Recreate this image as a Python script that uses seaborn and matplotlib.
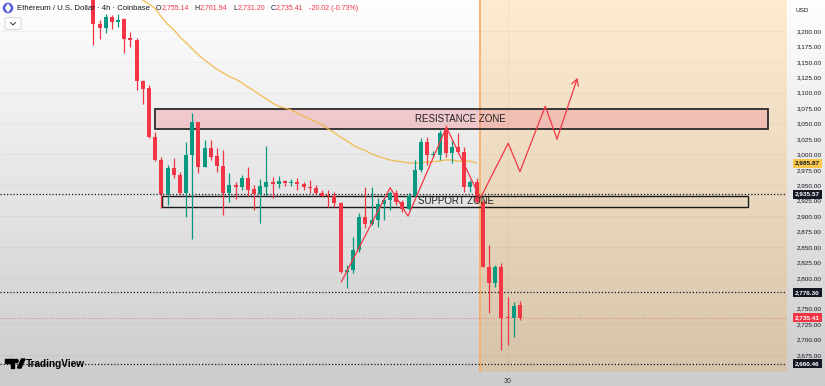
import numpy as np
import pandas as pd
import matplotlib
matplotlib.use("Agg")
import matplotlib.pyplot as plt
import matplotlib.transforms as mtransforms
from matplotlib.patches import Rectangle, FancyBboxPatch, Circle, Polygon
import seaborn as sns

# ETH/USD 4h candles
opens = [3258, 3211, 3205, 3223, 3215, 3219, 3188, 3186, 3119, 3108,
         3028, 2991, 2936, 2978, 2967, 2937, 2999, 3052, 2980, 3010,
         2997, 2981, 2937, 2950, 2947, 2962, 2944, 2936, 2947, 2955,
         2952, 2957, 2953, 2955, 2952, 2947, 2946, 2937, 2933, 2933,
         2921, 2809, 2812, 2845, 2899, 2887, 2894, 2919, 2926, 2937,
         2923, 2912, 2933, 2975, 3020, 2999, 2999, 3040, 3002, 3012,
         3004, 2947, 2955, 2923, 2818, 2792, 2818, 2736, 2735, 2755.14]
highs = [3266, 3218, 3228, 3226, 3228, 3221, 3198, 3188, 3120, 3112,
         3036, 2996, 2983, 2994, 2972, 3020, 3067, 3053, 3023, 3023,
         3010, 3007, 2970, 2955, 2967, 2980, 2950, 2960, 3014, 2963,
         2965, 2959, 2960, 2962, 2955, 2958, 2950, 2942, 2942, 2939,
         2923, 2821, 2866, 2905, 2947, 2947, 2929, 2934, 2941, 2942,
         2926, 2937, 2991, 3027, 3028, 3005, 3040, 3048, 3023, 3035,
         3012, 2958, 2962, 2926, 2853, 2821, 2824, 2769, 2761, 2761.94]
lows = [3177, 3187, 3197, 3203, 3207, 3164, 3174, 3104, 3082, 3026,
        2990, 2913, 2918, 2962, 2936, 2899, 2863, 2970, 2979, 2991,
        2972, 2902, 2923, 2928, 2942, 2933, 2910, 2889, 2934, 2929,
        2946, 2949, 2949, 2942, 2942, 2937, 2936, 2931, 2915, 2915,
        2808, 2784, 2808, 2842, 2881, 2886, 2882, 2894, 2910, 2918,
        2907, 2910, 2931, 2971, 2983, 2995, 2991, 2996, 2986, 3002,
        2939, 2939, 2921, 2817, 2743, 2785, 2683, 2691, 2704, 2731.20]
closes = [3211, 3205, 3223, 3215, 3218, 3187, 3186, 3119, 3106, 3028,
          2991, 2936, 2978, 2967, 2937, 2999, 3052, 2980, 3010, 2996,
          2981, 2937, 2950, 2947, 2962, 2942, 2936, 2949, 2955, 2952,
          2957, 2954, 2955, 2952, 2947, 2946, 2937, 2933, 2932, 2921,
          2809, 2813, 2845, 2899, 2887, 2894, 2920, 2926, 2937, 2923,
          2912, 2933, 2975, 3020, 2999, 3001, 3035, 3002, 3012, 3004,
          2947, 2955, 2923, 2818, 2792, 2818, 2735, 2735, 2754, 2735.41]

# moving average, starts at candle 6
ma_start = 6
ma_values = [3268, 3258, 3250, 3244, 3236, 3223, 3211, 3202, 3190, 3181,
             3171, 3161, 3153, 3145, 3138, 3132, 3126, 3122, 3116, 3109,
             3103, 3096, 3090, 3083, 3078, 3075, 3072, 3067, 3062, 3057,
             3053, 3048, 3041, 3035, 3028, 3022, 3015, 3010, 3006, 3001,
             2997, 2994, 2991, 2989, 2988, 2986, 2986, 2986, 2988, 2988,
             2989, 2991, 2991, 2989, 2989, 2989, 2986]

# 2,775 sits under the 2,776.30 tag, so it is left out
price_ticks = [3200, 3175, 3150, 3125, 3100, 3075, 3050, 3025, 3000, 2975,
               2950, 2925, 2900, 2875, 2850, 2825, 2800, 2750, 2725,
               2700, 2675]
level_lines = [2935.57, 2776.30, 2660.46]
last_price = 2735.41
ma_last = 2985.87

resistance_zone = [3040.7, 3073.0]
support_zone = [2914.3, 2933.0]
zone_span = {"resistance": [10.0, 109.2], "support": [11.1, 105.9]}

# projected path drawn on the chart (candle index, price)
path_idx = [40.1, 48.0, 50.9, 57.1, 62.6, 67.1, 69.0, 73.1, 75.0, 78.3]
path_price = [2793, 2946, 2900, 3044, 2929, 3018, 2972, 3078, 3025, 3124]

forecast_start = 62.6
date_tick_idx = 67
date_tick_label = "30"

header_title = "Ethereum / U.S. Dollar · 4h · Coinbase"
header_ohlc = [("O", "2,755.14"), ("H", "2,761.94"), ("L", "2,731.20"), ("C", "2,735.41")]
header_change = "-20.02 (-0.73%)"

UP = "#089981"
DOWN = "#f23645"
TXT = "#131722"

sns.set_style("white")
plt.rcParams['font.family'] = ['Liberation Sans', 'DejaVu Sans']

W, H = 825, 386
fig = plt.figure(figsize=(W / 100, H / 100), dpi=100)

# background gradient (screenshot vignette)
bg = fig.add_axes([0, 0, 1, 1])
grad = np.linspace(0.995, 0.80, 256).reshape(-1, 1)
bg.imshow(np.dstack([grad, grad, grad]), aspect="auto", extent=[0, 1, 0, 1], origin="upper")
bg.set_axis_off()

ax = fig.add_axes([0, 14 / H, 787 / W, 372 / H])
ax.set_facecolor("none")
xmin, xmax = -15.1, 112.2
ax.set_xlim(xmin, xmax)
ax.set_ylim(2647.3, 3250.2)

df = pd.DataFrame({"open": opens, "high": highs, "low": lows, "close": closes})
df["idx"] = np.arange(len(df))
df["color"] = np.where(df["close"] >= df["open"], UP, DOWN)
body_lo = df[["open", "close"]].min(axis=1)
body_h = (df["close"] - df["open"]).abs().clip(lower=1.6)

# faint grid
for p in price_ticks[::2]:
    ax.axhline(p, color="#000000", alpha=0.035, lw=0.8, zorder=0)
ax.axvline(date_tick_idx, color="#000000", alpha=0.05, lw=0.8, zorder=0)

# forecast shading
ax.axvspan(forecast_start, xmax, color="#ff9800", alpha=0.17, lw=0, zorder=1)
ax.axvline(forecast_start, color="#f5b06a", lw=1.3, zorder=1)

# zones
r0, r1 = zone_span["resistance"]
ax.add_patch(Rectangle((r0, resistance_zone[0]), r1 - r0, resistance_zone[1] - resistance_zone[0],
                       facecolor=(0.95, 0.55, 0.60, 0.38), edgecolor="#2b2b2b", lw=1.3, zorder=2))
s0, s1 = zone_span["support"]
ax.add_patch(Rectangle((s0, support_zone[0]), s1 - s0, support_zone[1] - support_zone[0],
                       facecolor="none", edgecolor="#1a1a1a", lw=1.0, zorder=2))

# horizontal levels
for lv in level_lines:
    ax.axhline(lv, color=TXT, ls=(0, (1, 1.6)), lw=0.9, zorder=3)
ax.axhline(last_price, color=DOWN, ls=(0, (1, 2)), lw=0.7, alpha=0.6, zorder=3)

# moving average
sns.lineplot(x=np.arange(ma_start, ma_start + len(ma_values)), y=ma_values, ax=ax,
             color="#f2b845", lw=1.0, alpha=0.85, zorder=3)

# candles
ax.vlines(df["idx"], df["low"], df["high"], colors=df["color"], lw=0.9, zorder=4)
ax.bar(df["idx"], body_h, bottom=body_lo, width=0.64, color=df["color"], lw=0, zorder=5)

# projected path
ax.plot(path_idx[:-1], path_price[:-1], color=DOWN, lw=0.9, zorder=6)
ax.annotate("", xy=(path_idx[-1], path_price[-1]), xytext=(path_idx[-2], path_price[-2]),
            arrowprops=dict(arrowstyle="->,head_length=0.45,head_width=0.25", color=DOWN, lw=0.9,
                            shrinkA=0, shrinkB=0), zorder=6)

ax.text((r0 + r1) / 2 - 0.2, sum(resistance_zone) / 2, "RESISTANCE ZONE", ha="center", va="center",
        fontsize=7, color="#222222", zorder=7)
ax.text(52.5, sum(support_zone) / 2, "SUPPORT ZONE", ha="left", va="center",
        fontsize=7, color="#222222", zorder=7)

# price axis on the right
ax.yaxis.tick_right()
ax.set_yticks(price_ticks)
ax.set_yticklabels([f"{p:,.2f}" for p in price_ticks])
ax.tick_params(axis="y", length=0, pad=7, labelsize=4.6, labelcolor=TXT)
ax.set_xticks([date_tick_idx])
ax.set_xticklabels([date_tick_label])
ax.tick_params(axis="x", length=0, pad=4, labelsize=5, labelcolor="#333333")
for sp in ax.spines.values():
    sp.set_visible(False)

tr = mtransforms.blended_transform_factory(ax.transAxes, ax.transData)
tags = [(ma_last, "#f7c64a", TXT), (level_lines[0], "#131722", "white"),
        (level_lines[1], "#131722", "white"), (last_price, DOWN, "white"),
        (level_lines[2], "#131722", "white")]
for val, fc, tc in tags:
    ax.text(1 + 8 / 787, val, f"{val:,.2f}", transform=tr, ha="left", va="center",
            fontsize=4.6, color=tc, fontweight="bold", zorder=8,
            bbox=dict(boxstyle="square,pad=0.3", fc=fc, ec="none"))

fig.text(795 / W, 1 - 10 / H, "USD", fontsize=4.6, color=TXT, va="center")

# header
t = fig.text(17 / W, 1 - 8 / H, header_title, fontsize=5.6, color=TXT, va="center")
prev = t
for k, v in header_ohlc:
    a = ax.annotate(k, xy=(1, 0.5), xycoords=prev, xytext=(4, 0), textcoords="offset points",
                    va="center", fontsize=5, color=TXT)
    prev = ax.annotate(v, xy=(1, 0.5), xycoords=a, xytext=(0.3, 0), textcoords="offset points",
                       va="center", fontsize=5, color=DOWN)
ax.annotate(header_change, xy=(1, 0.5), xycoords=prev, xytext=(4, 0), textcoords="offset points",
            va="center", fontsize=5, color=DOWN)

# pixel overlay for decorations
ov = fig.add_axes([0, 0, 1, 1])
ov.set_xlim(0, W)
ov.set_ylim(H, 0)
ov.set_axis_off()
ov.set_facecolor("none")
ov.add_patch(Circle((8, 8), 4.6, color="#5b63d9"))
ov.add_patch(Polygon([(8, 4.5), (10.2, 8), (8, 11.5), (5.8, 8)], color="white"))
ov.add_patch(FancyBboxPatch((5, 17.5), 16, 12, boxstyle="round,pad=0,rounding_size=2",
                            fc="white", ec="#cfcfcf", lw=0.6))
ov.plot([10.5, 13, 15.5], [22.5, 25, 22.5], color="#333333", lw=0.7)
# TradingView logo
ov.add_patch(Polygon([(5, 359), (14, 359), (14, 368), (10.5, 368), (10.5, 362.5), (5, 362.5)], color="black"))
ov.add_patch(Circle((16.5, 361), 1.6, color="black"))
ov.add_patch(Polygon([(17.5, 368), (21.5, 359), (25, 359), (21, 368)], color="black"))
ov.text(26, 363.8, "TradingView", fontsize=7.2, fontweight="bold", color="black", va="center")

fig.savefig("out.png", dpi=100)
